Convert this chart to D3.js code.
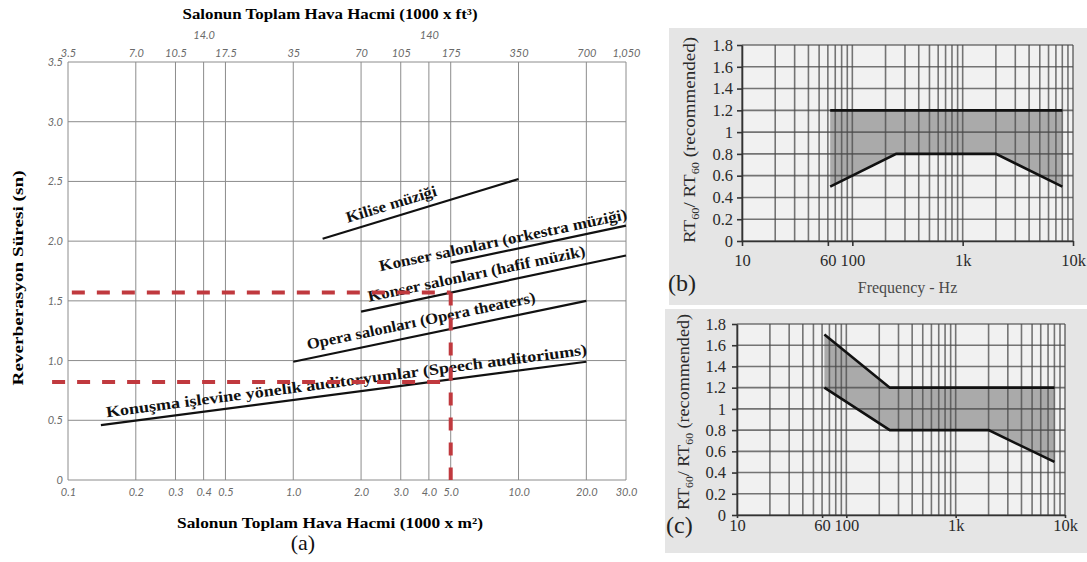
<!DOCTYPE html>
<html>
<head>
<meta charset="utf-8">
<script src="https://cdn.jsdelivr.net/npm/d3@7"></script>
<style>
  body { margin: 0; background: #fff; }
  svg { display: block; }
</style>
</head>
<body>
<svg id="fig" width="1087" height="562"></svg>
<script>
// ---- panel (a): recommended reverberation time vs hall volume
const volumeTicks = [0.1, 0.2, 0.3, 0.4, 0.5, 1, 2, 3, 4, 5, 10, 20, 30];
const volumeLabelsM3 = ['0.1', '0.2', '0.3', '0.4', '0.5', '1.0', '2.0', '3.0', '4.0', '5.0', '10.0', '20.0', '30.0'];
const volumeLabelsFt3 = ['3.5', '7.0', '10.5', '14.0', '17.5', '35', '70', '105', '140', '175', '350', '700', '1,050'];
const rtTicks = [0, 0.5, 1, 1.5, 2, 2.5, 3, 3.5];
const rtLabels = ['0', '0.5', '1.0', '1.5', '2.0', '2.5', '3.0', '3.5'];

const roomNames = [
  'Kilise müziği',
  'Konser salonları (orkestra müziği)',
  'Konser salonları (hafif müzik)',
  'Opera salonları (Opera theaters)',
  'Konuşma işlevine yönelik auditoryumlar (Speech auditoriums)'
];
const roomVolumes = [[1.35, 10], [5, 30], [2, 30], [1, 20], [0.14, 20]];
const roomRT = [[2.02, 2.52], [1.82, 2.13], [1.41, 1.88], [0.99, 1.5], [0.46, 0.99]];

// worked example: a 5000 m3 hall
const exampleVolume = 5;
const exampleRT = [1.57, 0.82];
const exampleStartVolume = [0.104, 0.085];

// ---- panels (b), (c): RT60 ratio vs frequency
const freqTicks = [10, 60, 100, 1000, 10000];
const freqLabels = ['10', '60', '100', '1k', '10k'];
const ratioTicks = [0, 0.2, 0.4, 0.6, 0.8, 1, 1.2, 1.4, 1.6, 1.8];
const ratioLabels = ['0', '0.2', '0.4', '0.6', '0.8', '1', '1.2', '1.4', '1.6', '1.8'];
const bandFreqs = [63, 250, 2000, 8000];
const upperB = [1.2, 1.2, 1.2, 1.2];
const lowerB = [0.5, 0.8, 0.8, 0.5];
const upperC = [1.7, 1.2, 1.2, 1.2];
const lowerC = [1.2, 0.8, 0.8, 0.5];

const svg = d3.select('#fig');
const serif = '"Liberation Serif", "Times New Roman", serif';
const tickFont = 'Lato, "DejaVu Sans", sans-serif';

function drawPanelA() {
  const g = svg.append('g');
  const x = d3.scaleLog().domain([0.1, 30]).range([68, 626]);
  const y = d3.scaleLinear().domain([0, 3.5]).range([480, 62]);

  // grid
  g.selectAll('line.vgrid').data(volumeTicks).join('line')
    .attr('class', 'vgrid')
    .attr('x1', d => x(d)).attr('x2', d => x(d))
    .attr('y1', y(0)).attr('y2', y(3.5))
    .attr('stroke', '#8c8c8c').attr('stroke-width', 1);
  g.selectAll('line.hgrid').data(rtTicks).join('line')
    .attr('class', 'hgrid')
    .attr('x1', x(0.1)).attr('x2', x(30))
    .attr('y1', d => y(d)).attr('y2', d => y(d))
    .attr('stroke', '#8c8c8c').attr('stroke-width', 1);

  // axes (labels only)
  const styleAxis = sel => {
    sel.select('.domain').remove();
    sel.selectAll('text')
      .attr('font-family', tickFont).attr('font-style', 'italic')
      .attr('font-size', 11).attr('fill', '#6a6a6a');
  };
  g.append('g').attr('transform', `translate(${x(0.1)},0)`)
    .call(d3.axisLeft(y).tickValues(rtTicks).tickFormat((d, i) => rtLabels[i]).tickSize(0).tickPadding(5))
    .call(styleAxis);
  g.append('g').attr('transform', `translate(0,${y(0)})`)
    .call(d3.axisBottom(x).tickValues(volumeTicks).tickFormat((d, i) => volumeLabelsM3[i]).tickSize(0).tickPadding(8))
    .call(styleAxis);
  const top = g.append('g').attr('transform', `translate(0,${y(3.5)})`)
    .call(d3.axisTop(x).tickValues(volumeTicks).tickFormat((d, i) => volumeLabelsFt3[i]).tickSize(0).tickPadding(5))
    .call(styleAxis);
  top.selectAll('text').filter((d, i) => i === 3 || i === 8).attr('y', -23);

  // recommendation lines
  const lines = roomNames.map((name, i) => ({
    name,
    p0: [x(roomVolumes[i][0]), y(roomRT[i][0])],
    p1: [x(roomVolumes[i][1]), y(roomRT[i][1])]
  }));
  g.selectAll('line.room').data(lines).join('line')
    .attr('class', 'room')
    .attr('x1', d => d.p0[0]).attr('y1', d => d.p0[1])
    .attr('x2', d => d.p1[0]).attr('y2', d => d.p1[1])
    .attr('stroke', '#111').attr('stroke-width', 2.2);

  // rotated labels along each line
  const labelAt = [2.83, 8.74, 6.69, 3.8, 1.75];
  const labelLift = [8, 6, 8, 9, 7];
  const labelLen = [94, 253, 222, 233, 485];
  lines.forEach((d, i) => {
    const px = x(labelAt[i]);
    const t = (px - d.p0[0]) / (d.p1[0] - d.p0[0]);
    const py = d.p0[1] + t * (d.p1[1] - d.p0[1]);
    const ang = Math.atan2(d.p1[1] - d.p0[1], d.p1[0] - d.p0[0]) * 180 / Math.PI;
    g.append('text')
      .attr('transform', `translate(${px},${py}) rotate(${ang})`)
      .attr('y', -labelLift[i])
      .attr('text-anchor', 'middle')
      .attr('font-family', serif).attr('font-weight', 'bold').attr('font-size', 15.5)
      .attr('fill', '#111')
      .attr('textLength', labelLen[i]).attr('lengthAdjust', 'spacingAndGlyphs')
      .text(d.name);
  });

  // red dashed read-off lines
  const red = g.append('g').attr('stroke', '#c0393e').attr('stroke-width', 4)
    .attr('stroke-dasharray', '13,12').attr('fill', 'none');
  exampleRT.forEach((rt, i) => {
    red.append('line')
      .attr('x1', x(exampleStartVolume[i])).attr('x2', x(exampleVolume))
      .attr('y1', y(rt)).attr('y2', y(rt));
  });
  red.append('line')
    .attr('x1', x(exampleVolume)).attr('x2', x(exampleVolume))
    .attr('y1', y(d3.max(exampleRT))).attr('y2', y(0));

  // titles
  g.append('text').attr('x', 330).attr('y', 19).attr('text-anchor', 'middle')
    .attr('font-family', serif).attr('font-weight', 'bold').attr('font-size', 15)
    .attr('textLength', 295).attr('lengthAdjust', 'spacingAndGlyphs')
    .text('Salonun Toplam Hava Hacmi (1000 x ft³)');
  g.append('text').attr('x', 330).attr('y', 528).attr('text-anchor', 'middle')
    .attr('font-family', serif).attr('font-weight', 'bold').attr('font-size', 15)
    .attr('textLength', 306).attr('lengthAdjust', 'spacingAndGlyphs')
    .text('Salonun Toplam Hava Hacmi (1000 x m²)');
  g.append('text').attr('transform', 'translate(23,278) rotate(-90)').attr('text-anchor', 'middle')
    .attr('font-family', serif).attr('font-weight', 'bold').attr('font-size', 15)
    .attr('textLength', 215).attr('lengthAdjust', 'spacingAndGlyphs')
    .text('Reverberasyon Süresi (sn)');
  g.append('text').attr('x', 303).attr('y', 550).attr('text-anchor', 'middle')
    .attr('font-family', serif).attr('font-size', 22).attr('fill', '#111')
    .text('(a)');
}

function drawRatioPanel(cfg) {
  const g = svg.append('g');
  const x = d3.scaleLog().domain([10, 10000]).range(cfg.xRange);
  const y = d3.scaleLinear().domain([0, 1.8]).range(cfg.yRange);

  g.append('rect').attr('x', cfg.bg[0]).attr('y', cfg.bg[1])
    .attr('width', cfg.bg[2]).attr('height', cfg.bg[3]).attr('fill', '#e5e5e5');
  g.append('rect').attr('x', cfg.xRange[0]).attr('y', cfg.yRange[1])
    .attr('width', cfg.xRange[1] - cfg.xRange[0]).attr('height', cfg.yRange[0] - cfg.yRange[1])
    .attr('fill', '#f1f1f1');

  // recommended band
  const band = bandFreqs.map((f, i) => ({ f, lo: cfg.lower[i], hi: cfg.upper[i] }));
  g.append('path').datum(band)
    .attr('d', d3.area().x(d => x(d.f)).y0(d => y(d.lo)).y1(d => y(d.hi)))
    .attr('fill', '#989898').attr('fill-opacity', 0.8);

  // log grid
  g.selectAll('line.vgrid').data(x.ticks()).join('line')
    .attr('class', 'vgrid')
    .attr('x1', d => x(d)).attr('x2', d => x(d))
    .attr('y1', y(0)).attr('y2', y(1.8))
    .attr('stroke', '#4a4a4a').attr('stroke-opacity', 0.75).attr('stroke-width', 1.6);
  g.selectAll('line.hgrid').data(ratioTicks).join('line')
    .attr('class', 'hgrid')
    .attr('x1', x(10)).attr('x2', x(10000))
    .attr('y1', d => y(d)).attr('y2', d => y(d))
    .attr('stroke', '#4a4a4a').attr('stroke-opacity', 0.75).attr('stroke-width', 1.6);

  // band edges
  const edge = d3.line().x(d => x(d.f));
  g.append('path').datum(band).attr('d', edge.y(d => y(d.hi)))
    .attr('fill', 'none').attr('stroke', '#111').attr('stroke-width', 2.6);
  g.append('path').datum(band).attr('d', edge.y(d => y(d.lo)))
    .attr('fill', 'none').attr('stroke', '#111').attr('stroke-width', 2.6);

  const styleAxis = sel => {
    sel.select('.domain').attr('stroke', '#333').attr('stroke-width', 1.6);
    sel.selectAll('.tick line').attr('stroke', '#333').attr('stroke-width', 1.6);
    sel.selectAll('text').attr('font-family', serif).attr('font-size', 16.5).attr('fill', '#2a2a2a');
  };
  g.append('g').attr('transform', `translate(${cfg.xRange[0]},0)`)
    .call(d3.axisLeft(y).tickValues(ratioTicks).tickFormat((d, i) => ratioLabels[i])
      .tickSizeInner(5).tickSizeOuter(0).tickPadding(cfg.yPad))
    .call(styleAxis);
  g.append('g').attr('transform', `translate(0,${cfg.yRange[0]})`)
    .call(d3.axisBottom(x).tickValues(freqTicks).tickFormat((d, i) => freqLabels[i])
      .tickSizeInner(cfg.xTick).tickSizeOuter(0).tickPadding(cfg.xPad))
    .call(styleAxis);

  // y title with subscripts
  const yt = g.append('text')
    .attr('transform', `translate(${cfg.yTitle[0]},${cfg.yTitle[1]}) rotate(-90)`)
    .attr('text-anchor', 'middle').attr('dominant-baseline', 'central')
    .attr('font-family', serif).attr('font-size', 17).attr('fill', '#2a2a2a')
    .attr('textLength', cfg.yTitle[2]).attr('lengthAdjust', 'spacingAndGlyphs');
  yt.append('tspan').text('RT');
  yt.append('tspan').attr('baseline-shift', 'sub').attr('font-size', 11).text('60');
  yt.append('tspan').text('/ RT');
  yt.append('tspan').attr('baseline-shift', 'sub').attr('font-size', 11).text('60');
  yt.append('tspan').text(' (recommended)');

  g.append('text').attr('x', cfg.letter[0]).attr('y', cfg.letter[1])
    .attr('font-family', serif).attr('font-size', 24).attr('fill', '#222')
    .text(cfg.name);

  if (cfg.xTitle) {
    g.append('text').attr('x', (cfg.xRange[0] + cfg.xRange[1]) / 2).attr('y', cfg.xTitleY)
      .attr('text-anchor', 'middle')
      .attr('font-family', serif).attr('font-size', 16).attr('fill', '#4a4a4a')
      .text(cfg.xTitle);
  }
}

drawPanelA();
drawRatioPanel({
  name: '(b)', upper: upperB, lower: lowerB,
  xRange: [742, 1073], yRange: [241, 45], bg: [669, 28, 418, 277],
  yPad: 4, xTick: 5, xPad: 8, yTitle: [689, 140, 206], letter: [668, 291],
  xTitle: 'Frequency - Hz', xTitleY: 293
});
drawRatioPanel({
  name: '(c)', upper: upperC, lower: lowerC,
  xRange: [737, 1065], yRange: [515, 324], bg: [665, 309, 422, 244],
  yPad: 6, xTick: 3, xPad: 1, yTitle: [683, 412, 196], letter: [666, 533]
});
</script>
</body>
</html>
